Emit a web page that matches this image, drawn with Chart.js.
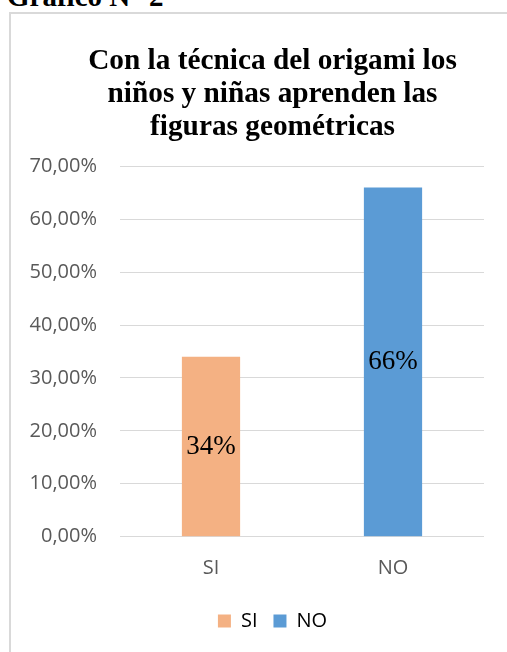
<!DOCTYPE html>
<html>
<head>
<meta charset="utf-8">
<script src="https://cdn.jsdelivr.net/npm/chart.js@4"></script>
<style>
  html, body { margin: 0; padding: 0; background: #fff; overflow: hidden; width: 507px; height: 652px; }
  #heading { position: absolute; left: 7px; top: -18px; font: bold 29px "Liberation Serif", "Times New Roman", serif; line-height: 29px; color: #000; white-space: nowrap; }
  #frame { position: absolute; left: 9px; top: 12px; width: 600px; height: 700px; border-left: 2px solid #d9d9d9; border-top: 2px solid #d9d9d9; box-sizing: border-box; }
  #chart { position: absolute; left: 0; top: 0; }
</style>
</head>
<body>
<div id="heading">Gráfico N° 2</div>
<div id="frame"></div>
<canvas id="chart" width="545" height="652"></canvas>
<script>
// Datos del gráfico
const categories = ['SI', 'NO'];
const values = [34, 66];
const colors = ['#F4B183', '#5B9BD5'];
const titleLines = ['Con la técnica del origami los', 'niños y niñas aprenden las', 'figuras geométricas'];

const sans = '"Open Sans", "Liberation Sans", sans-serif';
const serif = '"Liberation Serif", "Times New Roman", serif';

// Etiquetas de datos dentro de las barras
const barLabels = {
    id: 'barLabels',
    afterDatasetsDraw(chart) {
        const ctx = chart.ctx;
        const meta = chart.getDatasetMeta(0);
        ctx.save();
        ctx.font = '27px ' + serif;
        ctx.fillStyle = '#000';
        ctx.textAlign = 'center';
        ctx.textBaseline = 'middle';
        meta.data.forEach((bar, i) => {
            const { x, y, base } = bar.getProps(['x', 'y', 'base'], true);
            ctx.fillText(values[i] + '%', x, (y + base) / 2);
        });
        ctx.restore();
    }
};

new Chart(document.getElementById('chart'), {
    type: 'bar',
    data: {
        labels: categories,
        datasets: [{
            label: 'Serie 1',
            data: values,
            backgroundColor: colors,
            categoryPercentage: 1,
            barPercentage: 0.32
        }]
    },
    options: {
        responsive: false,
        animation: false,
        layout: { padding: { left: 0, right: 0, top: 0, bottom: 11 } },
        plugins: {
            title: {
                display: true,
                text: titleLines,
                color: '#000',
                font: { family: serif, size: 29.3, weight: 'bold', lineHeight: 1.13 },
                padding: { top: 45, bottom: 22 }
            },
            legend: {
                position: 'bottom',
                labels: {
                    boxWidth: 13,
                    boxHeight: 13,
                    padding: 16,
                    color: '#595959',
                    font: { family: sans, size: 20 },
                    generateLabels: () => categories.map((c, i) => ({
                        text: c,
                        fillStyle: colors[i],
                        strokeStyle: colors[i],
                        lineWidth: 0,
                        index: i
                    }))
                }
            },
            tooltip: { enabled: false }
        },
        scales: {
            x: {
                grid: { display: false, drawTicks: false },
                border: { display: false },
                ticks: { color: '#595959', font: { family: sans, size: 20 }, padding: 20 },
                afterFit: s => { s.height = 58.3; }
            },
            y: {
                min: 0,
                max: 70,
                grid: { color: '#d9d9d9', lineWidth: 1, drawTicks: false },
                border: { display: false },
                ticks: {
                    stepSize: 10,
                    padding: 23,
                    color: '#595959',
                    font: { family: sans, size: 20 },
                    callback: v => v.toFixed(2).replace('.', ',') + '%'
                },
                afterFit: s => { s.width = 120; }
            },
            y2: {
                position: 'right',
                grid: { display: false },
                border: { display: false },
                ticks: { display: false },
                afterFit: s => { s.width = 61; }
            }
        }
    },
    plugins: [barLabels]
});
</script>
</body>
</html>
